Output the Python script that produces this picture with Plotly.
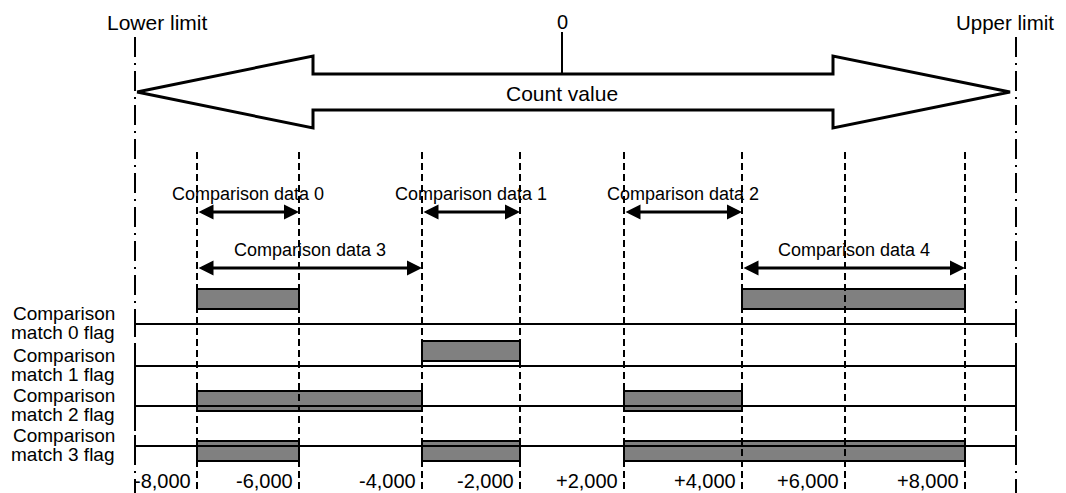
import plotly.graph_objects as go

# schematic positions of the comparison boundaries along the count axis
boundary_x = [197, 299, 422, 520, 624, 742, 845, 965]
boundary_labels = ["-8,000", "-6,000", "-4,000", "-2,000", "+2,000", "+4,000", "+6,000", "+8,000"]
lower_limit_x = 135
upper_limit_x = 1016
zero_x = 562

# comparison data ranges (start boundary, end boundary)
comparison_names = ["Comparison data 0", "Comparison data 1", "Comparison data 2",
                    "Comparison data 3", "Comparison data 4"]
comparison_ranges = [(0, 1), (2, 3), (4, 5), (0, 2), (5, 7)]
comparison_level = [0, 0, 0, 1, 1]

# flag high intervals for each match flag
flag_names = ["match 0 flag", "match 1 flag", "match 2 flag", "match 3 flag"]
flag_on = [
    [(0, 1), (5, 7)],
    [(2, 3)],
    [(0, 2), (4, 5)],
    [(0, 1), (2, 3), (4, 7)],
]

FONT = "Liberation Sans, Arial, sans-serif"
W, H = 1066, 493
OFF = 8  # page body margin, so axis units match window pixels
row_y = [324, 366, 406, 446]
level_y = [212, 268]
bar_h = 20

fig = go.Figure()
shapes = []
annotations = []


def text(x, y, s, anchor="center", size=19):
    annotations.append(dict(x=x, y=y, text=s, showarrow=False, xanchor=anchor,
                            yanchor="middle", font=dict(family=FONT, size=size, color="black")))


# limit lines
for lx in (lower_limit_x, upper_limit_x):
    shapes.append(dict(type="line", x0=lx, x1=lx, y0=37, y1=H,
                       line=dict(color="black", width=2, dash="20px,6px,2px,6px")))
text(157, 22, "Lower limit", size=21)
text(1056, 22, "Upper limit", anchor="right", size=20.5)
text(zero_x, 22, "0", size=20)

# big double arrow for the count value
tip_l, tip_r = lower_limit_x + 2, upper_limit_x - 6
head_l, head_r = 313, 833
mid, sh, hh = 92, 18, 36
ax = [tip_l, head_l, head_l, head_r, head_r, tip_r, head_r, head_r, head_l, head_l, tip_l]
ay = [mid, mid - hh, mid - sh, mid - sh, mid - hh, mid, mid + hh, mid + sh, mid + sh, mid + hh, mid]
fig.add_trace(go.Scatter(x=ax, y=ay, mode="lines", line=dict(color="black", width=3),
                         hoverinfo="skip", showlegend=False))
shapes.append(dict(type="line", x0=zero_x, x1=zero_x, y0=32, y1=mid - sh,
                   line=dict(color="black", width=2)))
text(zero_x, mid + 1, "Count value", size=21)

# dashed boundaries
for bx in boundary_x:
    shapes.append(dict(type="line", x0=bx, x1=bx, y0=152, y1=H,
                       line=dict(color="black", width=2, dash="7px,4px")))

# comparison data arrows
for name, (a, b), lvl in zip(comparison_names, comparison_ranges, comparison_level):
    x0, x1 = boundary_x[a], boundary_x[b]
    y = level_y[lvl]
    annotations.append(dict(x=x1, y=y, ax=x0, ay=y, axref="x", ayref="y", text="",
                            showarrow=True, arrowside="end+start", arrowhead=2,
                            arrowsize=1, arrowwidth=3, arrowcolor="black",
                            standoff=0, startstandoff=0))
    text((x0 + x1) / 2, y - 18, name, size=18)

# flag rows
for i, (name, spans) in enumerate(zip(flag_names, flag_on)):
    y = row_y[i]
    shapes.append(dict(type="line", x0=lower_limit_x, x1=upper_limit_x, y0=y, y1=y,
                       line=dict(color="black", width=2)))
    for lx in (lower_limit_x, upper_limit_x):
        shapes.append(dict(type="line", x0=lx, x1=lx, y0=y - 11, y1=y + 11,
                           line=dict(color="black", width=2)))
    starts = [boundary_x[a] for a, b in spans]
    lengths = [boundary_x[b] - boundary_x[a] for a, b in spans]
    fig.add_trace(go.Bar(x=lengths, base=starts, y=[y - bar_h / 2] * len(spans),
                         orientation="h", width=bar_h,
                         marker=dict(color="#808080", line=dict(color="black", width=2)),
                         hoverinfo="skip", showlegend=False))
    text(117, y - 11, "Comparison", anchor="right", size=19)
    text(117, y + 8, name, anchor="right", size=19)

# count value tick labels
for bx, lab in zip(boundary_x, boundary_labels):
    text(bx - 4, 481, lab, anchor="right", size=20)

fig.update_layout(
    width=W - OFF, height=H - OFF,
    margin=dict(l=0, r=0, t=0, b=0),
    paper_bgcolor="white", plot_bgcolor="white",
    shapes=shapes, annotations=annotations,
    xaxis=dict(range=[OFF, W], visible=False, fixedrange=True),
    yaxis=dict(range=[H, OFF], visible=False, fixedrange=True),
    bargap=0,
)

fig.write_html("out.html")
